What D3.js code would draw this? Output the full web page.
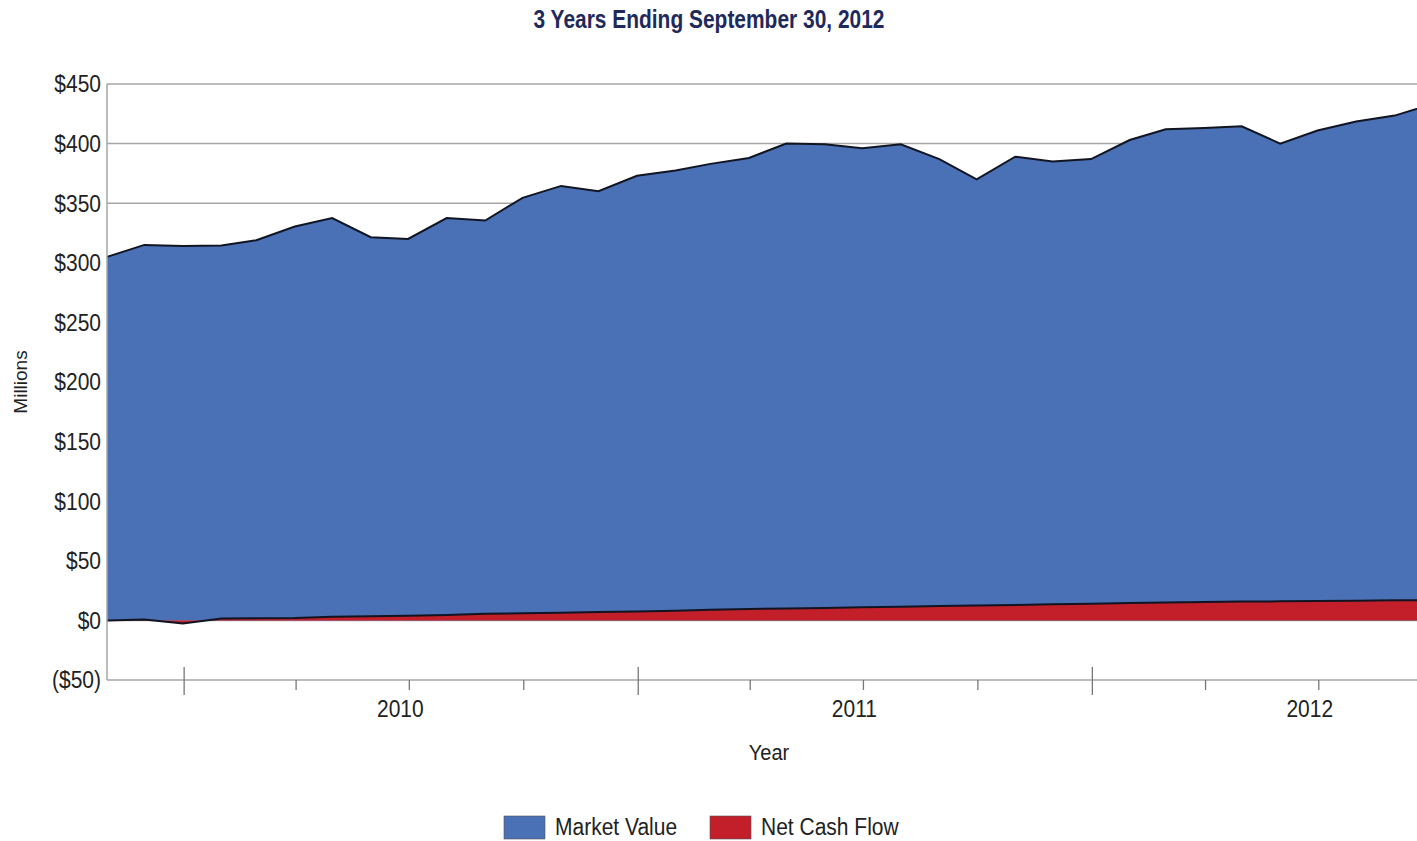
<!DOCTYPE html>
<meta charset="utf-8">
<script src="https://d3js.org/d3.v7.min.js"></script>
<style>
  body { margin: 0; background: #fff; }
  text { font-family: "Liberation Sans", Arial, sans-serif; fill: #222; }
</style>
<div id="my_dataviz"></div>
<script>

// month-end points, Oct 2009 .. Sep 2012
var months = ["2009-10","2009-11","2009-12",
  "2010-01","2010-02","2010-03","2010-04","2010-05","2010-06","2010-07","2010-08","2010-09","2010-10","2010-11","2010-12",
  "2011-01","2011-02","2011-03","2011-04","2011-05","2011-06","2011-07","2011-08","2011-09","2011-10","2011-11","2011-12",
  "2012-01","2012-02","2012-03","2012-04","2012-05","2012-06","2012-07","2012-08","2012-09"];

var marketValue = [305, 315, 314,
  314.5, 319, 330.5, 337.5, 321.5, 320, 337.5, 335.5, 354.5, 364.5, 360, 373,
  377.5, 383, 388, 400, 399.5, 396, 399.5, 387, 370, 389, 385, 387,
  403, 412, 413, 414.5, 400, 411, 418.5, 423.5, 433];

var netCashFlow = [0, 0.8, -2.5,
  1.5, 1.8, 2, 3, 3.5, 3.8, 4.5, 5.5, 6, 6.5, 7, 7.5,
  8, 9, 9.5, 10, 10.5, 11, 11.5, 12, 12.5, 13, 13.5, 14,
  14.5, 15, 15.5, 15.8, 16, 16.3, 16.5, 16.8, 17];

var yTicks = [-50, 0, 50, 100, 150, 200, 250, 300, 350, 400, 450];
var yearLabels = ["2010", "2011", "2012"];

var parseMonth = d3.timeParse("%Y-%m");
var data = months.map(function(m, i) {
  var d = parseMonth(m);
  return { date: d3.timeDay.offset(d3.timeMonth.offset(d, 1), -1), mv: marketValue[i], ncf: netCashFlow[i] };
});

var margin = {top: 84, left: 107},
    width = 1325,
    height = 596;

var svg = d3.select("#my_dataviz")
  .append("svg")
    .attr("width", 1417)
    .attr("height", 841);

var g = svg.append("g")
    .attr("transform", "translate(" + margin.left + "," + margin.top + ")");

var x = d3.scaleTime()
  .domain([data[0].date, data[data.length - 1].date])
  .range([0, width]);

var y = d3.scaleLinear()
  .domain([-50, 450])
  .range([height, 0]);

// title
svg.append("text")
  .attr("x", 709)
  .attr("y", 28)
  .attr("text-anchor", "middle")
  .attr("textLength", 351)
  .attr("lengthAdjust", "spacingAndGlyphs")
  .style("font-family", "'Liberation Sans Narrow', 'Arial Narrow', 'Liberation Sans', sans-serif")
  .style("font-weight", "bold")
  .style("font-size", "26px")
  .style("fill", "#1f2a5c")
  .text("3 Years Ending September 30, 2012");

// gridlines
g.append("g")
  .selectAll("line")
  .data(yTicks.filter(function(t) { return t > -50; }))
  .enter()
  .append("line")
    .attr("x1", 0)
    .attr("x2", width)
    .attr("y1", function(d) { return y(d); })
    .attr("y2", function(d) { return y(d); })
    .attr("stroke", "#a6a6a6")
    .attr("stroke-width", 1.5);

// y axis labels (a little taller than wide, like the original)
g.append("g")
  .selectAll("text")
  .data(yTicks)
  .enter()
  .append("text")
    .attr("transform", function(d) { return "translate(-6," + y(d) + ") scale(1,1.12)"; })
    .attr("dy", "0.36em")
    .attr("text-anchor", "end")
    .style("font-size", "21px")
    .text(function(d) { return d < 0 ? "($" + (-d) + ")" : "$" + d; });

// market value area
g.append("path")
  .datum(data)
  .attr("fill", "#4a70b6")
  .attr("d", d3.area()
    .x(function(d) { return x(d.date); })
    .y0(y(0))
    .y1(function(d) { return y(d.mv); }));

g.append("path")
  .datum(data)
  .attr("fill", "none")
  .attr("stroke", "#111522")
  .attr("stroke-width", 2)
  .attr("d", d3.line()
    .x(function(d) { return x(d.date); })
    .y(function(d) { return y(d.mv); }));

// net cash flow area
g.append("path")
  .datum(data)
  .attr("fill", "#c21f2a")
  .attr("d", d3.area()
    .x(function(d) { return x(d.date); })
    .y0(y(0))
    .y1(function(d) { return y(d.ncf); }));

g.append("path")
  .datum(data)
  .attr("fill", "none")
  .attr("stroke", "#111522")
  .attr("stroke-width", 2)
  .attr("d", d3.line()
    .x(function(d) { return x(d.date); })
    .y(function(d) { return y(d.ncf); }));

// axis frame
g.append("line")
  .attr("x1", 0).attr("x2", 0)
  .attr("y1", 0).attr("y2", height)
  .attr("stroke", "#a6a6a6").attr("stroke-width", 1.5);

g.append("line")
  .attr("x1", 0).attr("x2", width)
  .attr("y1", height).attr("y2", height)
  .attr("stroke", "#a6a6a6").attr("stroke-width", 1.5);

// year ticks (long) and quarter ticks (short)
var yearStarts = d3.timeYear.range(x.domain()[0], x.domain()[1]);
var quarterStarts = d3.timeMonth.every(3).range(x.domain()[0], x.domain()[1])
  .filter(function(d) { return d.getMonth() !== 0; });

g.append("g")
  .selectAll("line")
  .data(yearStarts)
  .enter()
  .append("line")
    .attr("x1", function(d) { return x(d); })
    .attr("x2", function(d) { return x(d); })
    .attr("y1", height - 13)
    .attr("y2", height + 15)
    .attr("stroke", "#777")
    .attr("stroke-width", 1.3);

g.append("g")
  .selectAll("line")
  .data(quarterStarts)
  .enter()
  .append("line")
    .attr("x1", function(d) { return x(d); })
    .attr("x2", function(d) { return x(d); })
    .attr("y1", height)
    .attr("y2", height + 10)
    .attr("stroke", "#777")
    .attr("stroke-width", 1.3);

// year labels, centred on each year
g.append("g")
  .selectAll("text")
  .data(yearLabels)
  .enter()
  .append("text")
    .attr("transform", function(d) { return "translate(" + (x(new Date(+d, 6, 1)) - 9) + "," + (height + 37) + ") scale(1,1.12)"; })
    .attr("text-anchor", "middle")
    .style("font-size", "21px")
    .text(function(d) { return d; });

// axis titles
svg.append("text")
  .attr("transform", "translate(769,760) scale(1,1.1)")
  .attr("text-anchor", "middle")
  .style("font-size", "20px")
  .text("Year");

svg.append("text")
  .attr("transform", "translate(27,382) rotate(-90)")
  .attr("text-anchor", "middle")
  .style("font-size", "19px")
  .text("Millions");

// legend
var legend = [
  {name: "Market Value", color: "#4a70b6", x: 504},
  {name: "Net Cash Flow", color: "#c21f2a", x: 710}
];
var lg = svg.append("g").selectAll("g").data(legend).enter().append("g");
lg.append("rect")
  .attr("x", function(d) { return d.x; })
  .attr("y", 816)
  .attr("width", 41)
  .attr("height", 23)
  .attr("fill", function(d) { return d.color; })
  .attr("stroke", "#555")
  .attr("stroke-width", 0.6);
lg.append("text")
  .attr("transform", function(d) { return "translate(" + (d.x + 51) + ",835) scale(1,1.1)"; })
  .style("font-size", "21px")
  .text(function(d) { return d.name; });

</script>
